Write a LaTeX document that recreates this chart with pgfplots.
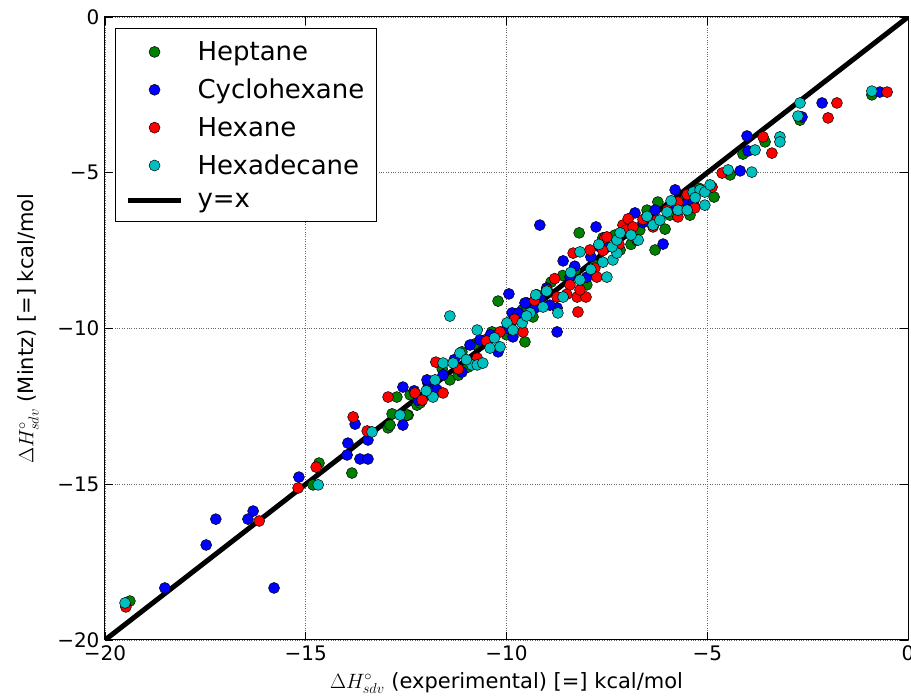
\documentclass[border=0pt]{standalone}
\usepackage{fontspec}
\setmainfont{DejaVu Sans}
\usepackage{pgfplots}
\pgfplotsset{compat=1.18}
\definecolor{mgreen}{RGB}{0,128,0}
\definecolor{mblue}{RGB}{0,0,255}
\definecolor{mred}{RGB}{255,0,0}
\definecolor{mcyan}{RGB}{0,191,191}
\begin{document}
\begin{tikzpicture}
\useasboundingbox (-105pt,-58pt) rectangle (806pt,640pt);
\begin{axis}[
  at={(0pt,0pt)}, anchor=south west,
  scale only axis, width=803pt, height=623pt,
  xmin=-20, xmax=0, ymin=-20, ymax=0,
  xtick={-20,-15,-10,-5,0}, xticklabels={−20,−15,−10,−5,0},
  ytick={-20,-15,-10,-5,0}, yticklabels={−20,−15,−10,−5,0},
  tick align=inside, major tick length=8pt,
  tick style={black, line width=0.8pt},
  grid=major, major grid style={dotted, black!60, line width=0.9pt},
  axis line style={line width=1pt},
  ticklabel style={font=\fontsize{20}{24}\selectfont},
  xticklabel style={yshift=-2pt},
  yticklabel style={xshift=-2pt},
  label style={font=\fontsize{21}{25}\selectfont},
  xlabel={$\Delta H^\circ_{sdv}$ (experimental) [=] kcal/mol},
  ylabel={$\Delta H^\circ_{sdv}$ (Mintz) [=] kcal/mol},
  xlabel style={at={(axis description cs:0.5,-0.069)}, anchor=center},
  ylabel style={at={(axis description cs:-0.0959,0.5)}, anchor=center},
  legend style={at={(0.0125,0.982)}, anchor=north west, draw=black, line width=1pt,
    fill=white, font=\fontsize{26}{31}\selectfont, cells={anchor=west},
    inner xsep=10pt, inner ysep=11pt, row sep=13pt, column sep=12pt},
  legend image code/.code={\draw[mark repeat=2,mark phase=2,#1] plot coordinates {(0pt,0pt) (26.5pt,0pt) (53pt,0pt)};},
]
\addplot[only marks, mark=*, mark size=5.5pt, mark options={draw=black, line width=0.5pt, fill=mgreen}] coordinates {
(-19.38,-18.75) (-14.82,-15.02) (-14.67,-14.32) (-13.85,-14.64) (-12.95,-13.19)
(-12.90,-13.10) (-12.85,-12.74) (-12.45,-12.78) (-12.73,-12.20) (-12.40,-12.13)
(-12.23,-12.46) (-12.15,-12.39) (-12.48,-12.78) (-11.41,-11.65) (-10.96,-11.24)
(-11.11,-10.75) (-10.36,-10.11) (-10.21,-9.12) (-9.54,-10.43) (-9.34,-9.63)
(-9.24,-8.92) (-8.89,-8.51) (-8.19,-6.93) (-7.60,-7.09) (-6.30,-7.48)
(-6.05,-6.81) (-6.23,-5.94) (-5.93,-6.36) (-5.43,-6.36) (-4.83,-5.78)
(-4.43,-5.07) (-4.11,-4.40) (-3.56,-4.01) (-2.69,-3.31) (-0.90,-2.50)
(-9.17,-9.09) (-8.29,-8.12) (-7.17,-7.48) (-6.68,-6.84) (-7.80,-7.96)
(-9.91,-9.82) (-10.54,-10.37) (-11.91,-12.13)
(-11.60,-11.30) (-10.80,-10.50) (-10.00,-10.20) (-9.60,-9.40) (-8.60,-8.30)
(-8.00,-8.60) (-7.30,-7.00) (-6.90,-7.30) (-6.50,-6.20) (-5.60,-5.90)
(-5.20,-5.50) (-11.20,-11.50)
};
\addlegendentry{Heptane}
\addplot[only marks, mark=*, mark size=5.5pt, mark options={draw=black, line width=0.5pt, fill=mblue}] coordinates {
(-18.51,-18.33) (-15.79,-18.33) (-17.48,-16.95) (-17.24,-16.12) (-16.44,-16.12)
(-16.31,-15.86) (-15.17,-14.77) (-13.65,-14.19) (-13.45,-14.19) (-13.95,-13.68)
(-13.97,-14.06) (-13.45,-13.58) (-13.77,-13.07) (-12.58,-13.10) (-12.58,-11.88)
(-11.96,-11.75) (-11.78,-11.91) (-12.20,-12.30) (-11.98,-11.65) (-11.73,-11.97)
(-11.58,-11.49) (-11.11,-11.40) (-10.21,-10.75) (-9.94,-8.89) (-9.86,-9.50)
(-9.84,-10.27) (-9.49,-9.18) (-8.74,-10.11) (-9.17,-6.68) (-9.54,-9.18)
(-9.29,-9.34) (-9.17,-9.02) (-8.74,-9.34) (-8.59,-7.83) (-8.42,-8.35)
(-8.00,-8.35) (-7.77,-6.74) (-7.67,-7.38) (-7.50,-7.38) (-6.80,-6.29)
(-6.10,-7.29) (-5.80,-5.55) (-5.50,-5.97) (-5.35,-5.97) (-4.18,-4.94)
(-3.98,-4.30) (-4.01,-3.82) (-2.64,-3.21) (-2.14,-2.76) (-0.70,-2.41)
(-10.66,-10.37) (-10.91,-10.53) (-9.66,-9.73) (-8.92,-9.25)
(-11.30,-11.00) (-10.40,-10.20) (-9.70,-9.50) (-9.00,-8.70) (-8.30,-8.00)
(-7.90,-7.70) (-7.30,-7.40) (-6.60,-6.60) (-6.30,-6.20) (-5.90,-6.10)
(-12.30,-12.00) (-10.00,-10.00)
};
\addlegendentry{Cyclohexane}
\addplot[only marks, mark=*, mark size=5.5pt, mark options={draw=black, line width=0.5pt, fill=mred}] coordinates {
(-19.48,-18.94) (-16.16,-16.18) (-15.19,-15.12) (-14.74,-14.45) (-13.47,-13.29)
(-13.82,-12.84) (-12.95,-12.20) (-12.28,-12.07) (-11.58,-12.07) (-11.76,-11.08)
(-10.73,-10.95) (-10.16,-10.11) (-9.59,-10.11) (-8.99,-8.76) (-8.74,-8.99)
(-8.42,-8.60) (-8.34,-7.58) (-8.24,-8.99) (-8.22,-9.47) (-8.02,-8.99)
(-8.17,-8.76) (-7.92,-7.48) (-7.80,-8.06) (-7.75,-8.35) (-7.55,-7.09)
(-7.50,-7.06) (-7.10,-6.68) (-7.02,-6.84) (-6.97,-6.48) (-6.85,-6.74)
(-6.75,-7.16) (-6.35,-6.74) (-6.25,-6.52) (-5.73,-5.94) (-5.73,-6.42)
(-5.31,-6.13) (-4.88,-5.46) (-4.63,-5.01) (-3.39,-4.37) (-3.61,-3.85)
(-1.77,-2.76) (-1.99,-3.24) (-0.52,-2.41)
(-12.10,-12.30) (-11.20,-11.30) (-10.50,-10.40) (-9.80,-9.70) (-9.30,-9.10)
(-8.80,-8.40) (-8.50,-8.90) (-7.60,-7.50) (-7.20,-7.30) (-6.60,-6.50)
(-6.00,-6.20) (-5.50,-5.70)
};
\addlegendentry{Hexane}
\addplot[only marks, mark=*, mark size=5.5pt, mark options={draw=black, line width=0.5pt, fill=mcyan}] coordinates {
(-19.50,-18.81) (-14.69,-15.02) (-13.35,-13.32) (-12.65,-12.78) (-11.83,-12.20)
(-11.78,-11.65) (-11.58,-11.11) (-11.33,-11.11) (-11.16,-10.79) (-10.86,-11.17)
(-10.73,-11.17) (-10.59,-11.11) (-10.41,-10.63) (-10.16,-10.59) (-11.41,-9.60)
(-10.73,-10.05) (-9.99,-9.82) (-9.84,-10.05) (-9.61,-9.82) (-9.41,-9.50)
(-9.27,-8.92) (-9.09,-9.31) (-8.72,-9.50) (-8.59,-8.99) (-8.17,-8.44)
(-8.17,-7.54) (-7.50,-8.35) (-7.60,-7.87) (-7.35,-7.80) (-7.25,-7.58)
(-7.37,-7.38) (-7.25,-7.16) (-7.17,-6.93) (-6.72,-7.16) (-6.35,-6.68)
(-6.18,-6.52) (-6.00,-6.26) (-5.73,-6.20) (-5.50,-6.20) (-5.35,-5.62)
(-5.18,-5.55) (-5.06,-5.62) (-4.93,-5.39) (-5.06,-6.04) (-4.48,-4.91)
(-3.89,-4.98) (-3.81,-4.27) (-3.19,-3.85) (-3.19,-4.01) (-2.69,-2.76)
(-2.74,-3.18) (-0.90,-2.38)
(-12.00,-12.00) (-11.00,-11.00) (-10.30,-10.30) (-9.50,-9.60) (-9.00,-8.80)
(-8.40,-8.20) (-7.90,-8.10) (-7.70,-7.30) (-6.90,-7.00) (-6.50,-6.40)
(-5.90,-5.90) (-5.30,-5.80)
};
\addlegendentry{Hexadecane}
\addplot[black, line width=5pt] coordinates {(-20,-20) (0,0)};
\addlegendentry{y=x}
\end{axis}
\end{tikzpicture}
\end{document}
